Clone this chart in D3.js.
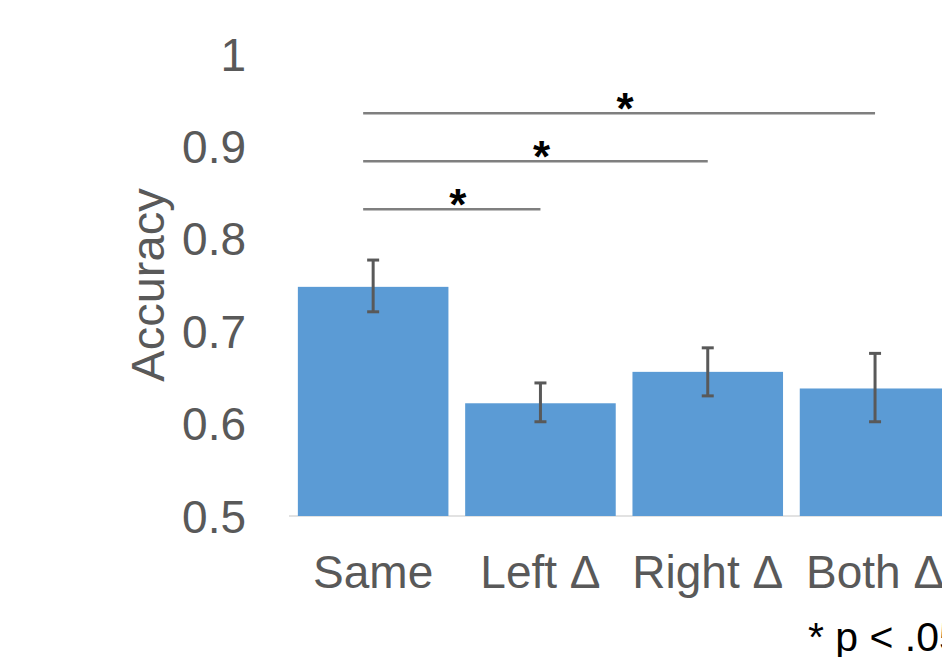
<!DOCTYPE html>
<html>
<head>
<meta charset="utf-8">
<script src="https://cdn.jsdelivr.net/npm/d3@7"></script>
<style>
  html, body { margin: 0; padding: 0; background: #fff; overflow: hidden; }
  svg { display: block; font-family: "Liberation Sans", Arial, sans-serif; }
</style>
</head>
<body>
<div id="chart"></div>
<script>
const categories = ['Same', 'Left Δ', 'Right Δ', 'Both Δ'];
const accuracy = [0.748, 0.622, 0.656, 0.638];
const errLow = [0.721, 0.602, 0.630, 0.602];
const errHigh = [0.777, 0.644, 0.682, 0.676];
const yTicks = [0.5, 0.6, 0.7, 0.8, 0.9, 1];
// significance brackets: from category, to category, height (accuracy units)
const sigFrom = ['Same', 'Same', 'Same'];
const sigTo = ['Both Δ', 'Right Δ', 'Left Δ'];
const sigLevel = [0.936, 0.884, 0.832];

const width = 942, height = 657;
const svg = d3.select('#chart').append('svg')
  .attr('width', width)
  .attr('height', height);

const x = d3.scaleBand()
  .domain(categories)
  .range([289.5, 958.7])
  .paddingInner(0.1)
  .paddingOuter(0.05);

const y = d3.scaleLinear()
  .domain([0.5, 1])
  .range([516, 54]);

// baseline
svg.append('line')
  .attr('x1', 289).attr('x2', 960)
  .attr('y1', y(0.5)).attr('y2', y(0.5))
  .attr('stroke', '#d9d9d9').attr('stroke-width', 1.5);

// y tick labels
svg.append('g')
  .selectAll('text')
  .data(yTicks)
  .join('text')
  .attr('x', 246)
  .attr('y', d => y(d))
  .attr('dy', '0.36em')
  .attr('text-anchor', 'end')
  .attr('font-size', 46)
  .attr('fill', '#595959')
  .text(d => d3.format('~g')(d));

svg.append('text')
  .attr('transform', 'translate(164,285) rotate(-90)')
  .attr('text-anchor', 'middle')
  .attr('font-size', 47)
  .attr('fill', '#595959')
  .text('Accuracy');

// bars
svg.append('g')
  .selectAll('rect')
  .data(categories)
  .join('rect')
  .attr('x', d => x(d))
  .attr('width', x.bandwidth())
  .attr('y', (d, i) => y(accuracy[i]))
  .attr('height', (d, i) => y(0.5) - y(accuracy[i]))
  .attr('fill', '#5b9bd5');

// error bars
const eb = svg.append('g')
  .attr('stroke', '#595959')
  .attr('stroke-width', 3);
categories.forEach((c, i) => {
  const cx = x(c) + x.bandwidth() / 2;
  eb.append('line')
    .attr('x1', cx).attr('x2', cx)
    .attr('y1', y(errLow[i])).attr('y2', y(errHigh[i]));
  [errLow[i], errHigh[i]].forEach(v => {
    eb.append('line')
      .attr('x1', cx - 6).attr('x2', cx + 6)
      .attr('y1', y(v)).attr('y2', y(v));
  });
});

// x labels
svg.append('g')
  .selectAll('text')
  .data(categories)
  .join('text')
  .attr('x', d => x(d) + x.bandwidth() / 2)
  .attr('y', 588)
  .attr('text-anchor', 'middle')
  .attr('font-size', 46)
  .attr('fill', '#595959')
  .text(d => d);

// significance lines
sigFrom.forEach((f, i) => {
  const x1 = x(f) + x.bandwidth() / 2 - 10;
  const x2 = x(sigTo[i]) + x.bandwidth() / 2;
  svg.append('line')
    .attr('x1', x1).attr('x2', x2)
    .attr('y1', y(sigLevel[i])).attr('y2', y(sigLevel[i]))
    .attr('stroke', '#7f7f7f').attr('stroke-width', 2.5);
  svg.append('text')
    .attr('x', (x1 + x2) / 2 + 6)
    .attr('y', y(sigLevel[i]) + 11)
    .attr('text-anchor', 'middle')
    .attr('font-size', 44)
    .attr('font-weight', 'bold')
    .attr('fill', '#000')
    .text('*');
});

svg.append('text')
  .attr('x', 808)
  .attr('y', 651)
  .attr('font-size', 41)
  .attr('fill', '#000')
  .text('* p < .05');
</script>
</body>
</html>
